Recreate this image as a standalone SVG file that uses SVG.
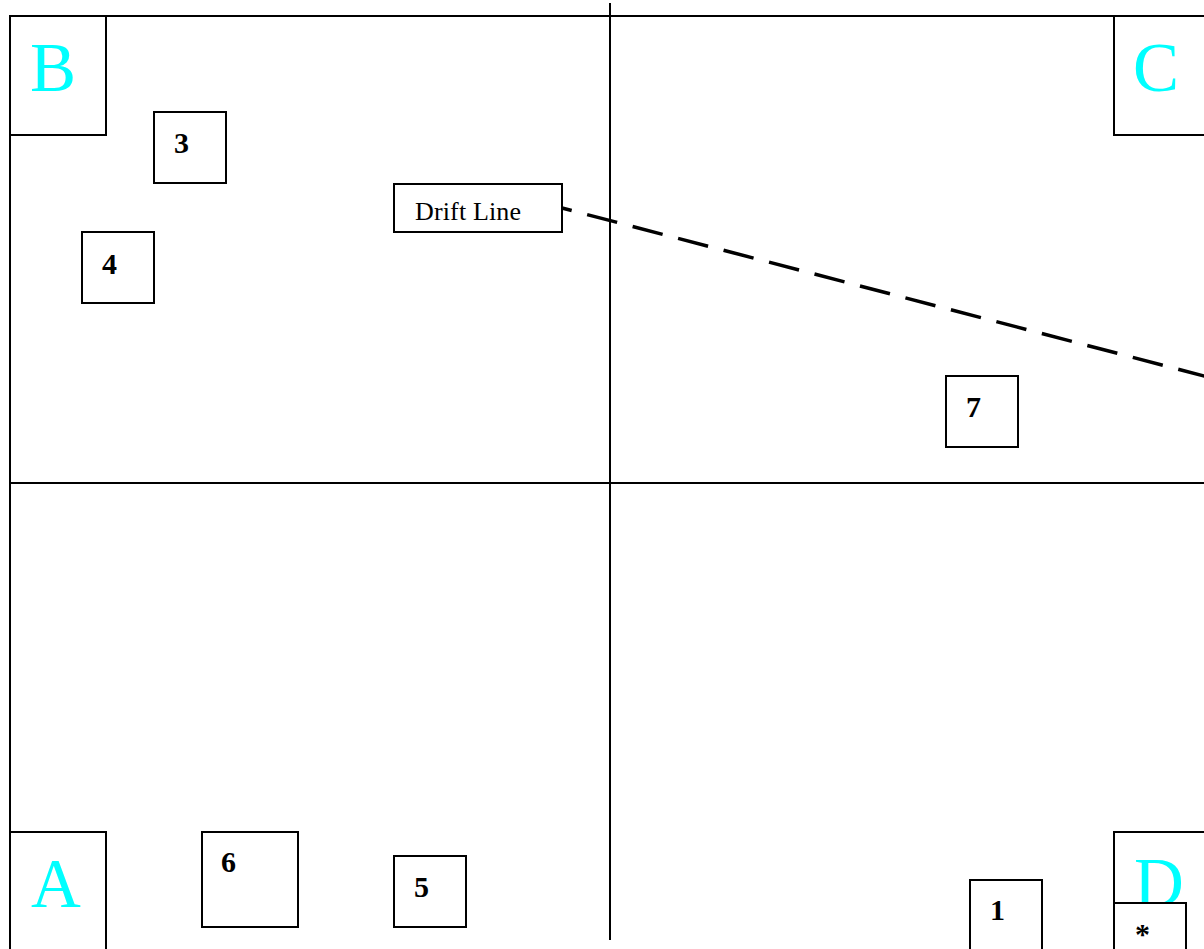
<svg xmlns="http://www.w3.org/2000/svg" width="1204" height="949" viewBox="0 0 1204 949">
<style>
.ln{stroke:#000;stroke-width:2;fill:none}
.bx{stroke:#000;stroke-width:2;fill:#fff}
.big{font-family:"Liberation Serif",serif;font-size:69px;fill:#00ffff}
.num{font-family:"Liberation Serif",serif;font-size:30px;font-weight:bold;fill:#000}
.lbl{font-family:"Liberation Serif",serif;font-size:26px;fill:#000}
</style>
<rect width="1204" height="949" fill="#fff"/>
<g id="grid">
<line class="ln" x1="10" y1="16" x2="1206" y2="16"/>
<line class="ln" x1="10" y1="16" x2="10" y2="951"/>
<line class="ln" x1="610" y1="3" x2="610" y2="940"/>
<line class="ln" x1="10" y1="483" x2="1206" y2="483"/>
</g>
<g id="connectors">
<line x1="562" y1="208" x2="1206" y2="376.5" stroke="#000" stroke-width="3.5" stroke-dasharray="10,16,31,16,31,16,31,16,31,16,31,16,31,16,31,16,31,16,31,16,31,16,31,16,31,16,31,16,31,16"/>
</g>
<g id="nodeB"><rect class="bx" x="10" y="16" width="96" height="119"/><text class="big" x="30" y="91">B</text></g>
<g id="nodeC"><rect class="bx" x="1114" y="16" width="96" height="119"/><text class="big" x="1133" y="91">C</text></g>
<g id="nodeA"><rect class="bx" x="10" y="832" width="96" height="120"/><text class="big" x="31" y="907">A</text></g>
<g id="nodeD"><rect class="bx" x="1114" y="832" width="96" height="120"/><text class="big" x="1134" y="906">D</text></g>
<g id="node3"><rect class="bx" x="154" y="112" width="72" height="71"/><text class="num" x="174" y="153">3</text></g>
<g id="node4"><rect class="bx" x="82" y="232" width="72" height="71"/><text class="num" x="102" y="274">4</text></g>
<g id="drift"><rect class="bx" x="394" y="184" width="168" height="48"/><text class="lbl" x="415" y="220" textLength="106">Drift Line</text></g>
<g id="node7"><rect class="bx" x="946" y="376" width="72" height="71"/><text class="num" x="966" y="417">7</text></g>
<g id="node6"><rect class="bx" x="202" y="832" width="96" height="95"/><text class="num" x="221" y="872">6</text></g>
<g id="node5"><rect class="bx" x="394" y="856" width="72" height="71"/><text class="num" x="414" y="897">5</text></g>
<g id="node1"><rect class="bx" x="970" y="880" width="72" height="72"/><text class="num" x="990" y="920">1</text></g>
<g id="nodeStar"><rect class="bx" x="1114" y="903" width="72" height="50"/><text class="num" x="1135" y="944">*</text></g>
</svg>
